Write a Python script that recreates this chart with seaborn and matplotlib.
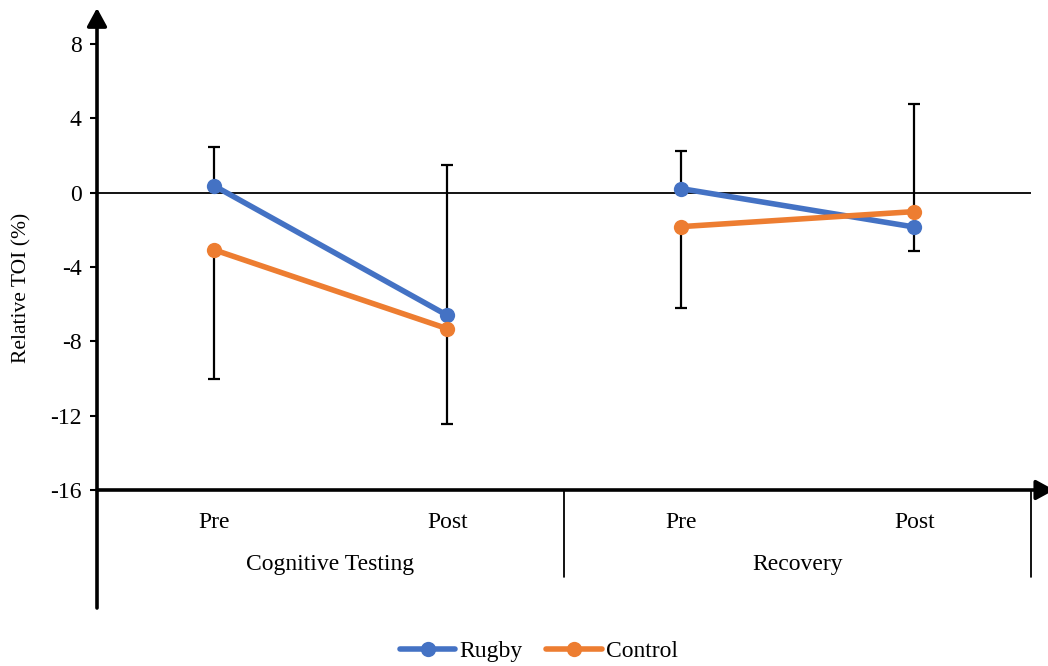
import matplotlib
matplotlib.use("Agg")
import matplotlib.pyplot as plt
import seaborn as sns
import pandas as pd
from matplotlib.lines import Line2D
from matplotlib.patches import FancyArrowPatch

# Data
phases = ["Cognitive Testing", "Cognitive Testing", "Recovery", "Recovery"]
times = ["Pre", "Post", "Pre", "Post"]
rugby = [0.38, -6.6, 0.22, -1.85]
control = [-3.07, -7.32, -1.83, -1.02]
# one-sided error bars (positive = upward whisker, negative = downward)
rugby_err = [2.1, 8.1, 2.04, -1.27]
control_err = [-6.94, -5.11, -4.36, 5.81]
groups = ["Rugby", "Control"]
colors = {"Rugby": "#4472C4", "Control": "#ED7D31"}
yticks = [-16, -12, -8, -4, 0, 4, 8]

rows = []
for g, vals in zip(groups, [rugby, control]):
    for i, (p, t, v) in enumerate(zip(phases, times, vals)):
        rows.append({"x": i, "phase": p, "time": t, "group": g, "value": v})
df = pd.DataFrame(rows)

sns.set_theme(style="white")
plt.rcParams["font.family"] = ["Liberation Serif", "DejaVu Serif"]
plt.rcParams["text.color"] = "black"
plt.rcParams["axes.labelcolor"] = "black"
plt.rcParams["ytick.color"] = "black"

FS = 17
W, H = 1048, 666
fig = plt.figure(figsize=(W / 100, H / 100), dpi=100)
ax_left, ax_right = 97 / W, 1031 / W
ax_bottom = (H - 490) / H
ax_top = (H - 6.8) / H
ax = fig.add_axes([ax_left, ax_bottom, ax_right - ax_left, ax_top - ax_bottom])

# error bars (under the lines)
for vals, errs in [(rugby, rugby_err), (control, control_err)]:
    for i, (v, e) in enumerate(zip(vals, errs)):
        yerr = [[0], [e]] if e > 0 else [[-e], [0]]
        ax.errorbar([i], [v], yerr=yerr, fmt="none", ecolor="black",
                    elinewidth=1.6, capsize=4.5, capthick=1.6, zorder=2)

sns.lineplot(data=df, x="x", y="value", hue="group", units="phase",
             estimator=None, palette=colors, hue_order=groups,
             marker="o", markersize=11, markeredgewidth=0,
             linewidth=4, legend=False, ax=ax, zorder=3)

ax.axhline(0, color="black", linewidth=1.3, zorder=1)

ax.set_xlim(-0.5, 3.5)
ax.set_ylim(-16, 10)
ax.set_yticks(yticks)
ax.set_yticklabels([str(t) for t in yticks], fontsize=FS)
ax.tick_params(axis="y", which="major", left=True, length=5, width=1.5,
               direction="out", pad=6, colors="black")
ax.set_xticks([])
ax.set_xlabel("")
ax.set_ylabel("Relative TOI (%)", fontsize=15.5, va="center")
ax.yaxis.set_label_coords((22 - 97) / 934, (490 - 288) / 483.2)
for s in ax.spines.values():
    s.set_visible(False)
ax.set_facecolor("none")

# category labels below the axis
for i, t in enumerate(times):
    ax.annotate(t, xy=(i, 0), xycoords=("data", "axes fraction"),
                xytext=(0, -23.4), textcoords="offset points",
                ha="center", va="center", fontsize=FS)
for centre, p in [(0.5, "Cognitive Testing"), (2.5, "Recovery")]:
    ax.annotate(p, xy=(centre, 0), xycoords=("data", "axes fraction"),
                xytext=(0, -53.6), textcoords="offset points",
                ha="center", va="center", fontsize=FS)
for sep in [1.5, 3.5]:
    ax.annotate("", xy=(sep, 0), xycoords=("data", "axes fraction"),
                xytext=(sep, -62.6), textcoords=("data", "offset points"),
                arrowprops=dict(arrowstyle="-", lw=1.3, color="black",
                                shrinkA=0, shrinkB=0))

# axis lines with arrowheads
head = "-|>,head_length=0.55,head_width=0.3"
y0 = (H - 490) / H
fig.add_artist(FancyArrowPatch(
    (ax_left, (H - 608) / H), (ax_left, (H - 8) / H),
    transform=fig.transFigure, arrowstyle=head, mutation_scale=20,
    lw=2.6, color="black", shrinkA=0, shrinkB=0))
fig.add_artist(FancyArrowPatch(
    (ax_left, y0), (1.006, y0),
    transform=fig.transFigure, arrowstyle=head, mutation_scale=20,
    lw=2.6, color="black", shrinkA=0, shrinkB=0))

handles = [Line2D([], [], color=colors[g], marker="o", markersize=11,
                  markeredgewidth=0, linewidth=4) for g in groups]
fig.legend(handles, groups, loc="center", bbox_to_anchor=(539 / W, (H - 651) / H),
           ncol=2, frameon=False, fontsize=FS, handlelength=2.35,
           handletextpad=0.18, columnspacing=1.0)

fig.savefig("out.png", dpi=100)
